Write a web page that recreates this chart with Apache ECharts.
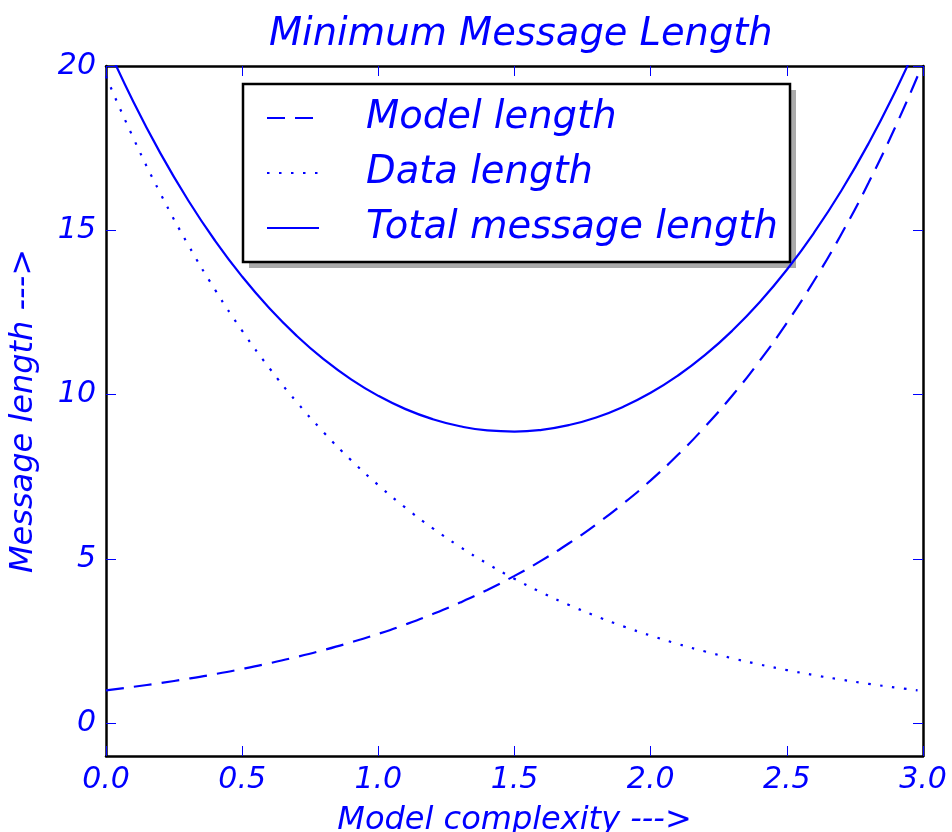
<!DOCTYPE html>
<html>
<head>
<meta charset="utf-8">
<script src="https://cdn.jsdelivr.net/npm/echarts@6/dist/echarts.min.js"></script>
<style>html,body{margin:0;padding:0;background:#fff}#c{width:952px;height:832px}</style>
</head>
<body>
<div id="c"></div>
<script>
const xValues = [0,0.1,0.2,0.3,0.4,0.5,0.6,0.7,0.8,0.9,1.0,1.1,1.2,1.3,1.4,1.5,1.6,1.7,1.8,1.9,2.0,2.1,2.2,2.3,2.4,2.5,2.6,2.7,2.8,2.9,2.98];
const modelLength = [1.000,1.105,1.221,1.350,1.492,1.649,1.822,2.014,2.226,2.460,2.718,3.004,3.320,3.669,4.055,4.482,4.953,5.474,6.050,6.686,7.389,8.166,9.025,9.974,11.023,12.182,13.464,14.880,16.445,18.174,19.687];
const dataLength = [19.687,17.814,16.119,14.585,13.197,11.941,10.805,9.777,8.846,8.004,7.243,6.553,5.930,5.366,4.855,4.393,3.975,3.597,3.254,2.945,2.664,2.411,2.181,1.974,1.786,1.616,1.462,1.323,1.197,1.083,1.000];
const totalLength = [20.687,18.919,17.340,15.935,14.689,13.590,12.627,11.791,11.072,10.464,9.961,9.557,9.250,9.035,8.910,8.875,8.928,9.071,9.304,9.631,10.053,10.577,11.206,11.948,12.809,13.798,14.926,16.203,17.642,19.257,20.687];
const yTicks = [0,5,10,15,20];
const seriesNames = ['Model length','Data length','Total message length'];

const FONT = 'DejaVu Sans';
const BLUE = '#0000ff';
const pairs = arr => xValues.map((x,i)=>[x,arr[i]]);

const chart = echarts.init(document.getElementById('c'), null, {renderer:'canvas'});
const tickStyle = {show:true, inside:true, length:10, lineStyle:{color:BLUE, width:1}};
const axisLine = {show:true, onZero:false, lineStyle:{color:'#000', width:2.5}};
chart.setOption({
  animation:false,
  backgroundColor:'#fff',
  title:{
    text:'Minimum Message Length', left:264, top:11,
    textStyle:{fontFamily:FONT, fontStyle:'italic', fontWeight:'normal', fontSize:38.4, color:BLUE}
  },
  graphic:[
    {type:'rect', z:-1, zlevel:0, shape:{x:249, y:90, width:547, height:178}, style:{fill:'#aaaaaa'}, silent:true},
    {type:'rect', z:-1, zlevel:0, shape:{x:243, y:84, width:547, height:178}, style:{fill:'#fff', stroke:'#000', lineWidth:2.5}, silent:true}
  ],
  grid:{left:106, top:66, width:817, height:690, containLabel:false, outerBoundsMode:'none'},
  legend:{
    orient:'vertical', left:243, top:84, z:10,
    data:seriesNames,
    padding:[12,12,14,23],
    itemWidth:52, itemHeight:14, itemGap:11,
    itemStyle:{opacity:0},
    textStyle:{fontFamily:FONT, fontStyle:'italic', fontSize:38.5, color:BLUE, lineHeight:44, padding:[0,0,0,42]}
  },
  xAxis:[{
    type:'value', min:0, max:3, interval:0.5, position:'bottom',
    name:'Model complexity --->', nameLocation:'middle', nameGap:49,
    nameTextStyle:{fontFamily:FONT, fontStyle:'italic', fontSize:32, color:BLUE},
    axisLine:axisLine, axisTick:tickStyle, splitLine:{show:false},
    axisLabel:{fontFamily:FONT, fontStyle:'italic', fontSize:30, color:BLUE, margin:9, formatter:v=>v.toFixed(1)}
  },{
    type:'value', min:0, max:3, interval:0.5, position:'top',
    axisLine:axisLine, axisTick:tickStyle, splitLine:{show:false}, axisLabel:{show:false}
  }],
  yAxis:[{
    type:'value', min:-1, max:20, position:'left',
    name:'Message length --->', nameLocation:'middle', nameGap:66,
    nameTextStyle:{fontFamily:FONT, fontStyle:'italic', fontSize:32, color:BLUE},
    axisLine:axisLine, axisTick:Object.assign({customValues:yTicks}, tickStyle), splitLine:{show:false},
    axisLabel:{customValues:yTicks, fontFamily:FONT, fontStyle:'italic', fontSize:30, color:BLUE, margin:10}
  },{
    type:'value', min:-1, max:20, position:'right',
    axisLine:axisLine, axisTick:Object.assign({customValues:yTicks}, tickStyle), splitLine:{show:false},
    axisLabel:{show:false, customValues:yTicks}
  }],
  series:[
    {name:seriesNames[0], type:'line', data:pairs(modelLength), smooth:true, showSymbol:false, symbol:'none', clip:true,
     lineStyle:{color:BLUE, width:2.2, type:[18,10]}, itemStyle:{color:BLUE}},
    {name:seriesNames[1], type:'line', data:pairs(dataLength), smooth:true, showSymbol:false, symbol:'none', clip:true,
     lineStyle:{color:BLUE, width:2.2, type:[2.5,9.5]}, itemStyle:{color:BLUE}},
    {name:seriesNames[2], type:'line', data:pairs(totalLength), smooth:true, showSymbol:false, symbol:'none', clip:true,
     lineStyle:{color:BLUE, width:2.2, type:'solid'}, itemStyle:{color:BLUE}}
  ]
});
</script>
</body>
</html>
